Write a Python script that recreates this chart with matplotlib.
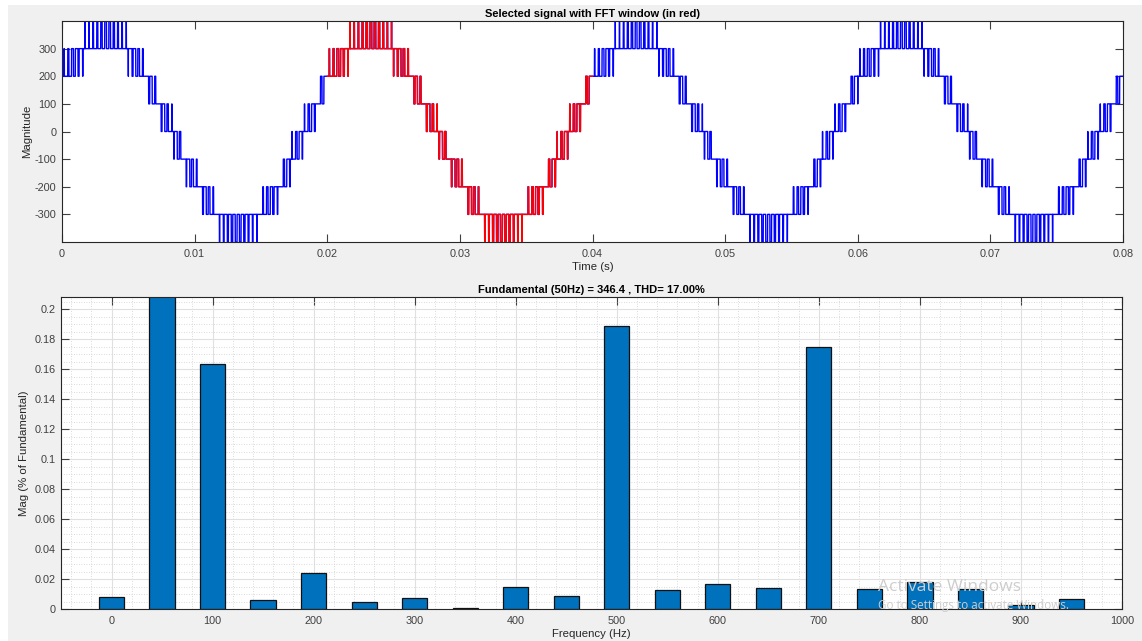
import numpy as np
import matplotlib
matplotlib.use('Agg')
import matplotlib.pyplot as plt
from matplotlib.patches import Rectangle
from matplotlib.ticker import MultipleLocator

# ---------------- data ----------------
# Staircase reference of one 50 Hz period (units of 100): times where the
# PWM band changes level, and the peak level (fundamental 346.4)
period = 0.02
ref_t = [0.0, 0.0017, 0.0034, 0.00498, 0.00632, 0.00727, 0.00832, 0.00922,
         0.01036, 0.0116, 0.0132, 0.0149, 0.01646, 0.01733, 0.01823, 0.01928, 0.02]
ref_v = [2.0, 3.0, 3.464, 3.0, 2.0, 1.0, 0.0, -1.0,
         -2.0, -3.0, -3.464, -3.0, -2.0, -1.0, 0.0, 1.0, 2.0]
carrier_hz = 3200
step_size = 100
fft_window = [0.02, 0.04]
t_end = 0.08

sig_xticks = [0, 0.01, 0.02, 0.03, 0.04, 0.05, 0.06, 0.07, 0.08]
sig_xlabels = ['0', '0.01', '0.02', '0.03', '0.04', '0.05', '0.06', '0.07', '0.08']
sig_yticks = [-300, -200, -100, 0, 100, 200, 300]

freqs = [0, 50, 100, 150, 200, 250, 300, 350, 400, 450,
         500, 550, 600, 650, 700, 750, 800, 850, 900, 950]
mags = [0.0082, 100.0, 0.1635, 0.0058, 0.024, 0.0045, 0.0073, 0.0005, 0.0147, 0.0087,
        0.189, 0.0127, 0.0169, 0.014, 0.175, 0.0136, 0.0178, 0.0131, 0.0029, 0.0069]
fft_xticks = [0, 100, 200, 300, 400, 500, 600, 700, 800, 900, 1000]
fft_yticks = [0, 0.02, 0.04, 0.06, 0.08, 0.1, 0.12, 0.14, 0.16, 0.18, 0.2]
fft_ylabels = ['0', '0.02', '0.04', '0.06', '0.08', '0.1', '0.12', '0.14', '0.16', '0.18', '0.2']
fundamental = 346.4
thd = 17.00

# ---------------- figure ----------------
plt.rcParams['font.family'] = ['Liberation Sans', 'DejaVu Sans']
plt.rcParams['axes.unicode_minus'] = False
W, H = 1142, 641
fig = plt.figure(figsize=(W / 100, H / 100), dpi=100, facecolor='white')
fig.patches.append(Rectangle((8 / W, 0), 1, 1 - 5 / H, transform=fig.transFigure,
                             facecolor='#f0f0f0', edgecolor='none', zorder=-10))

axc = '#262626'
tickc = '#404040'


def style(ax):
    ax.set_facecolor('white')
    for s in ax.spines.values():
        s.set_color(axc)
        s.set_linewidth(0.8)
    ax.tick_params(which='major', direction='in', length=6, width=0.8,
                   top=True, right=True, labelsize=7.8, colors=tickc, pad=5)
    ax.tick_params(which='minor', length=0)
    ax.tick_params(axis='y', pad=4)


def px_axes(l, t, r, b):
    return fig.add_axes([l / W, 1 - b / H, (r - l) / W, (b - t) / H])


# ---- top: signal ----
ax1 = px_axes(62, 21, 1123, 242)
style(ax1)
t = np.arange(0, t_end + 1e-9, 1e-6)
ref = np.interp(t % period, ref_t, ref_v)
lo = np.floor(ref)
tri = np.abs(((t * carrier_hz) % 1.0) * 2 - 1)
sig = step_size * (lo + ((ref - lo) > tri))
sig[0] = 0
ax1.plot(t, sig, color='#0000ff', lw=1.0)
m = (t >= fft_window[0]) & (t <= fft_window[1])
ax1.plot(t[m], sig[m], color='#ff0000', lw=1.0)
ax1.set_xlim(0, t_end)
ax1.set_ylim(-400, 400)
ax1.set_xticks(sig_xticks)
ax1.set_xticklabels(sig_xlabels)
ax1.set_yticks(sig_yticks)
ax1.set_title('Selected signal with FFT window (in red)', fontsize=8,
              fontweight='bold', color='#000000', pad=3)
ax1.set_xlabel('Time (s)', fontsize=8.2, color=axc, labelpad=2)
ax1.set_ylabel('Magnitude', fontsize=8.2, color=axc, labelpad=2)

# ---- bottom: spectrum ----
ax2 = px_axes(61, 297, 1122, 609)
style(ax2)
ax2.set_axisbelow(True)
ax2.bar(freqs, mags, width=25, color='#0072bd', edgecolor='#111111', linewidth=0.9, zorder=2)
ax2.set_xlim(-50, 1000)
ax2.set_ylim(0, 0.2082)
ax2.set_xticks(fft_xticks)
ax2.set_yticks(fft_yticks)
ax2.set_yticklabels(fft_ylabels)
ax2.xaxis.set_minor_locator(MultipleLocator(20))
ax2.yaxis.set_minor_locator(MultipleLocator(0.005))
ax2.grid(which='major', color='#e0e0e0', lw=0.8, ls='-')
ax2.grid(which='minor', color='#cfcfcf', lw=0.6, ls=(0, (1, 2)))
ax2.set_title('Fundamental (50Hz) = %.1f , THD= %.2f%%' % (fundamental, thd),
              fontsize=8, fontweight='bold', color='#000000', pad=3)
ax2.set_xlabel('Frequency (Hz)', fontsize=8.2, color=axc, labelpad=2)
ax2.set_ylabel('Mag (% of Fundamental)', fontsize=8.2, color=axc, labelpad=4)
for ln in ax2.get_xticklines() + ax2.get_yticklines():
    ln.set_zorder(5)

# OS watermark visible in the screenshot
fig.text(878 / W, 1 - 587 / H, 'Activate Windows', fontsize=12.5, color='#cdcdcd',
         va='center', ha='left', family=['Open Sans', 'DejaVu Sans'])
fig.text(878 / W, 1 - 605 / H, 'Go to Settings to activate Windows.', fontsize=8.4,
         color='#cdcdcd', va='center', ha='left', family=['Open Sans', 'DejaVu Sans'])

fig.savefig('out.png', dpi=100, facecolor=fig.get_facecolor())
